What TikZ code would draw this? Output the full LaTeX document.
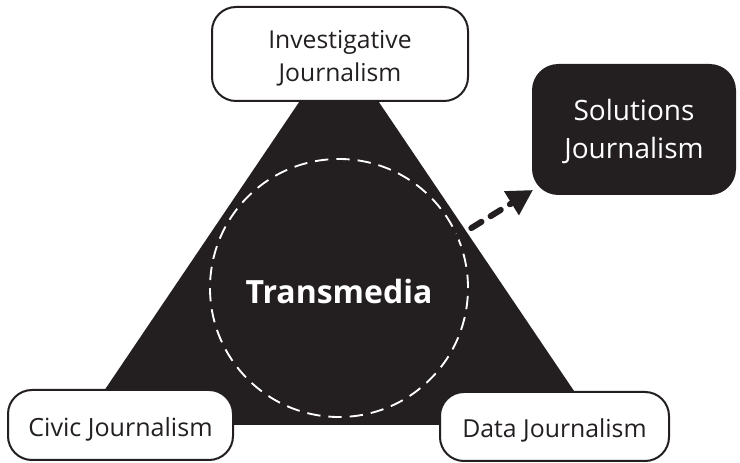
\documentclass[tikz,border=0pt]{standalone}
\usepackage{fontspec}
\setmainfont{Open Sans}
\usetikzlibrary{arrows.meta}
\definecolor{ink}{RGB}{35,31,32}
\tikzset{
  wbox/.style={draw=ink, line width=1.5pt, fill=white, rounded corners=18pt, inner sep=0pt},
  bbox/.style={draw=ink, line width=1.5pt, fill=ink, rounded corners=19pt, inner sep=0pt},
  wtxt/.style={align=center, text=ink, inner sep=0pt},
  btxt/.style={align=center, text=white, inner sep=0pt},
  ring/.style={draw=white, line width=1.4pt, dash pattern=on 10pt off 6pt, fill=none},
  flow/.style={draw=ink, line width=4.5pt, dash pattern=on 9pt off 8pt, line cap=round, -{Triangle[length=19pt,width=20pt]}}
}
\begin{document}
\begin{tikzpicture}[x=0.75pt,y=-0.75pt]
\useasboundingbox (0,0) rectangle (740,463);
% triangle
\fill[ink] (339,43) -- (597,425) -- (81,425) -- cycle;
% circle
\node[circle, minimum size=193.5pt, inner sep=0pt, ring] (c) at (339,288) {};
\node[text=white, font=\bfseries\fontsize{24pt}{30pt}\selectfont] (t) at (339,292) {Transmedia};
% boxes
\node[wbox, minimum width=192pt, minimum height=70.5pt,
  label={[wtxt, yshift=-3.5pt, font=\fontsize{18.5pt}{24.75pt}\selectfont]center:Investigative\\Journalism}] (inv) at (340,54) {};
\node[bbox, minimum width=151.5pt, minimum height=96.75pt,
  label={[btxt, yshift=-1.5pt, font=\fontsize{21pt}{28.5pt}\selectfont]center:Solutions\\Journalism}] (sol) at (634,129.5) {};
\node[wbox, minimum width=168.75pt, minimum height=52.5pt,
  label={[wtxt, yshift=-3.5pt, font=\fontsize{18.8pt}{24pt}\selectfont]center:Civic Journalism}] (civ) at (120.5,425) {};
\node[wbox, minimum width=171.75pt, minimum height=51.75pt,
  label={[wtxt, yshift=-3pt, font=\fontsize{18.6pt}{24pt}\selectfont]center:Data Journalism}] (dat) at (554.5,426.5) {};
% arrow
\coordinate (s) at (452,240);
\coordinate (e) at (533,190);
\draw[flow] (s) -- (e);
\end{tikzpicture}
\end{document}
